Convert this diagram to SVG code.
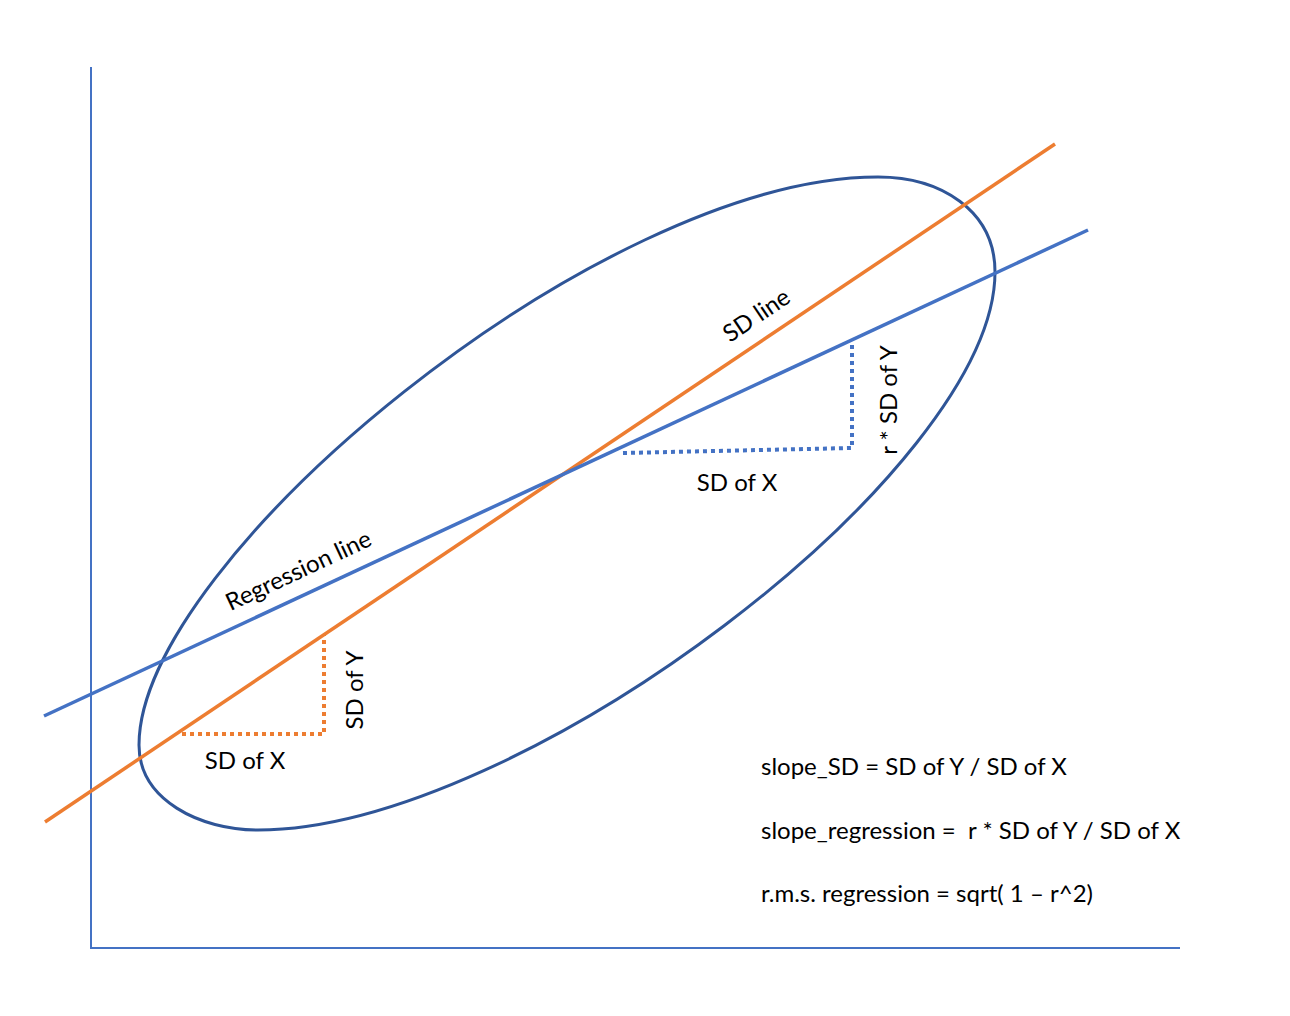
<svg xmlns="http://www.w3.org/2000/svg" width="1290" height="1016" viewBox="0 0 1290 1016">
<style>
.axis{stroke:#4472C4;stroke-width:2;fill:none}
.sd{stroke:#ED7D31;stroke-width:3.5;fill:none}
.reg{stroke:#4472C4;stroke-width:3.5;fill:none}
.ell{stroke:#2F5597;stroke-width:3;fill:none}
.dotO{stroke:#ED7D31;stroke-width:4;stroke-dasharray:4 4;fill:none}
.dotB{stroke:#4472C4;stroke-width:4;stroke-dasharray:4 4;fill:none}
text{font-family:Lato,"Liberation Sans",sans-serif;font-size:24px;fill:#000}
</style>
<rect width="1290" height="1016" fill="#fff"/>
<g id="axes">
<line class="axis" x1="91" y1="67" x2="91" y2="949"/>
<line class="axis" x1="90" y1="948" x2="1180" y2="948"/>
</g>
<g id="ellipse">
<path class="ell" d="M139 745 C139 800 200 830 258 830 C520 830 995 470 995 272 C995 210 940 177 878 177 C600 177 139 560 139 745 Z"/>
</g>
<g id="connectors">
<line class="sd" x1="45" y1="822" x2="1055" y2="144"/>
<line class="reg" x1="44" y1="716" x2="1088" y2="230"/>
<polyline class="dotO" points="182,734 324,734 324,635"/>
<polyline class="dotB" points="623,453 852,448 852,340"/>
</g>
<g id="labels">
<text x="761" y="322" text-anchor="middle" transform="rotate(-34 761 322)">SD line</text>
<text x="302" y="578" text-anchor="middle" transform="rotate(-25 302 578)">Regression line</text>
<text x="245" y="769" text-anchor="middle">SD of X</text>
<text x="363" y="690" text-anchor="middle" transform="rotate(-90 363 690)">SD of Y</text>
<text x="737" y="491" text-anchor="middle">SD of X</text>
<text x="897" y="400" text-anchor="middle" transform="rotate(-90 897 400)">r * SD of Y</text>
<text x="761" y="775">slope_SD = SD of Y / SD of X</text>
<text x="761" y="839" xml:space="preserve">slope_regression =  r * SD of Y / SD of X</text>
<text x="761" y="902">r.m.s. regression = sqrt( 1 – r^2)</text>
</g>
</svg>
